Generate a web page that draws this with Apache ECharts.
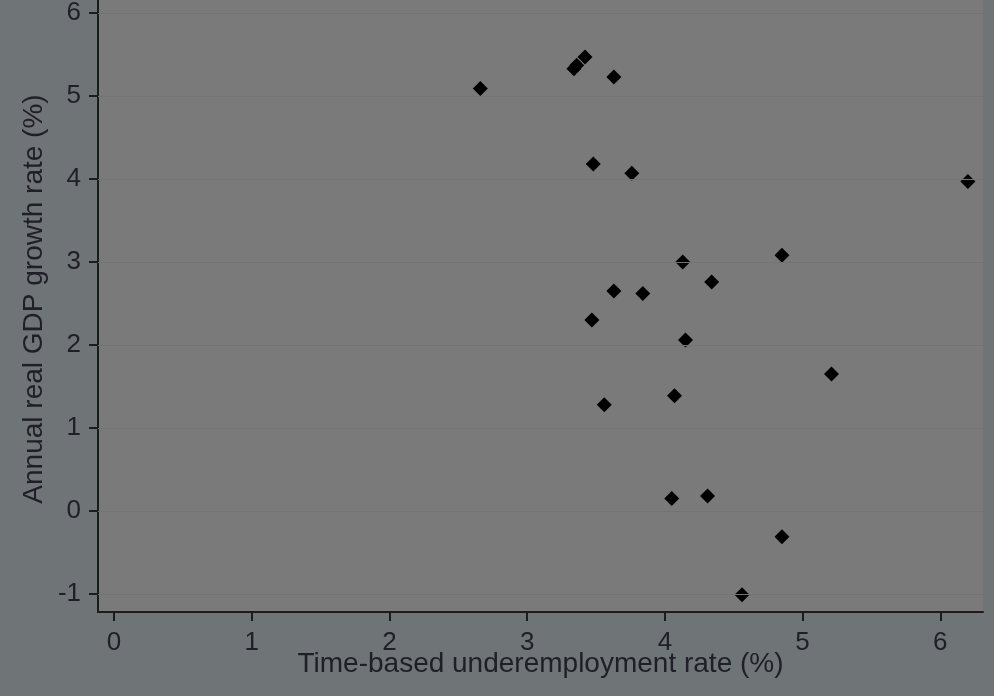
<!DOCTYPE html>
<html>
<head>
<meta charset="utf-8">
<script src="https://cdn.jsdelivr.net/npm/echarts@6/dist/echarts.min.js"></script>
<style>
  html, body { margin: 0; padding: 0; background: #6f7476; }
  #chart { width: 994px; height: 696px; }
</style>
</head>
<body>
<div id="chart"></div>
<script>
// Underemployment rate (%) vs. annual real GDP growth (%)
const underemployment = [2.66, 3.34, 3.36, 3.42, 3.63, 3.48, 3.76, 6.20, 4.13, 4.85,
                         3.63, 3.84, 4.34, 3.47, 4.15, 5.21, 4.07, 3.56, 4.05, 4.31,
                         4.85, 4.56];
const gdpGrowth = [5.09, 5.33, 5.37, 5.47, 5.23, 4.18, 4.07, 3.97, 3.00, 3.08,
                   2.65, 2.62, 2.76, 2.30, 2.06, 1.65, 1.39, 1.28, 0.15, 0.18,
                   -0.31, -1.01];
const xTicks = [0, 1, 2, 3, 4, 5, 6];
const yTicks = [-1, 0, 1, 2, 3, 4, 5, 6];

const points = underemployment.map((x, i) => [x, gdpGrowth[i]]);
const textColor = '#1f1f27';
const font = 'Liberation Sans, Arial, sans-serif';

const chart = echarts.init(document.getElementById('chart'));
chart.setOption({
  backgroundColor: '#6f7476',
  animation: false,
  grid: {
    left: 98, right: 11, top: 0, bottom: 84,
    show: true, backgroundColor: '#7a7a7a', borderWidth: 0
  },
  xAxis: {
    type: 'value',
    min: -0.116, max: 6.31,
    name: 'Time-based underemployment rate (%)',
    nameLocation: 'middle',
    nameGap: 38,
    nameMoveOverlap: false,
    nameTextStyle: { color: textColor, fontSize: 28, fontFamily: font },
    axisLine: { show: true, onZero: false, lineStyle: { color: '#1c1c1c', width: 2 } },
    axisTick: { show: true, length: 9, customValues: xTicks, lineStyle: { color: '#1c1c1c', width: 2 } },
    axisLabel: { customValues: xTicks, margin: 18, color: textColor, fontSize: 26, fontFamily: font },
    splitLine: { show: false }
  },
  yAxis: {
    type: 'value',
    min: -1.217, max: 6.157,
    name: 'Annual real GDP growth rate (%)',
    nameLocation: 'middle',
    nameGap: 50,
    nameMoveOverlap: false,
    nameTextStyle: { color: textColor, fontSize: 28, fontFamily: font, padding: [0, 0, 0, 14] },
    axisLine: { show: true, onZero: false, lineStyle: { color: '#1c1c1c', width: 2 } },
    axisTick: { show: true, length: 9, customValues: yTicks, lineStyle: { color: '#1c1c1c', width: 2 } },
    axisLabel: { customValues: yTicks, margin: 17, color: textColor, fontSize: 26, fontFamily: font },
    splitLine: { show: false }
  },
  series: [{
    type: 'scatter',
    data: points,
    symbol: 'diamond',
    symbolSize: 15,
    itemStyle: { color: '#000000', opacity: 1 },
    markLine: {
      silent: true,
      symbol: 'none',
      label: { show: false },
      lineStyle: { color: '#737373', width: 1, type: 'solid' },
      data: yTicks.map(v => ({ yAxis: v }))
    }
  }]
});
</script>
</body>
</html>
